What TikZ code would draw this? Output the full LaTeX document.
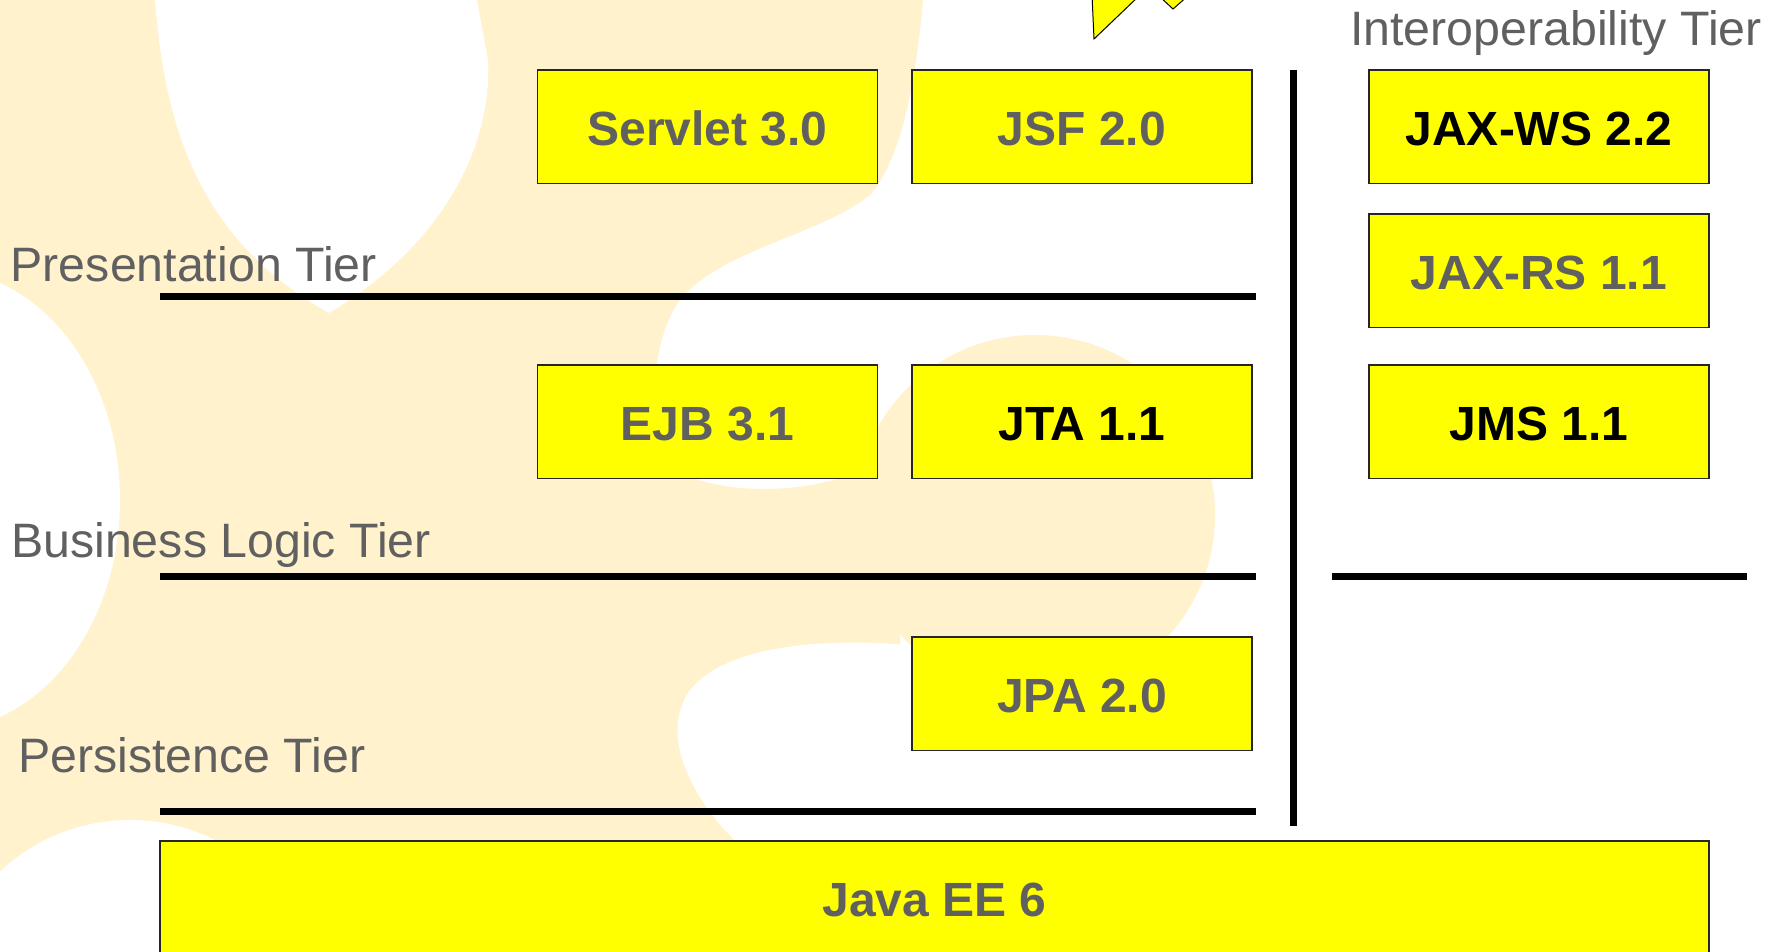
\documentclass[tikz,border=0pt]{standalone}
\usepackage{fontspec}
\setmainfont{Liberation Sans}
\definecolor{bgy}{RGB}{255,242,204}
\definecolor{boxy}{RGB}{255,255,0}
\definecolor{tgray}{RGB}{96,96,96}
\tikzset{
  tierbox/.style={draw=black!85, line width=1.5pt, fill=boxy, minimum width=340pt,
    minimum height=113.5pt, inner sep=0pt, text=tgray,
    font=\bfseries\fontsize{48}{56}\selectfont, text height=38pt, text depth=0pt},
  darktext/.style={text=black},
  tierlabel/.style={anchor=base west, inner sep=0pt, text=tgray,
    font=\fontsize{48.3}{56}\selectfont},
  sepline/.style={line width=7.5pt, black},
  spark/.style={fill=boxy, draw=black, line width=1pt, line join=miter}
}
\begin{document}
\begin{tikzpicture}[x=1pt,y=-1pt]
\useasboundingbox (0,0) rectangle (1778,951);
\clip (0,0) rectangle (1778,951);
\fill[white] (0,0) rectangle (1778,951);
% background shape
\fill[bgy] (-10,-10) -- (925,-10) -- (923,0)
  .. controls (915,90) and (900,160) .. (870,195)
  .. controls (820,235) and (720,250) .. (680,300)
  .. controls (650,340) and (650,420) .. (660,450)
  .. controls (675,495) and (800,500) .. (860,470)
  -- (900,560) -- (900,700) -- (780,960) -- (-10,960) -- cycle;
\fill[bgy] (1035,515) circle[radius=180];
\fill[white] (745,850) .. controls (700,810) and (655,740) .. (690,690)
  .. controls (730,640) and (850,635) .. (950,650) -- (1300,650) -- (1300,850) -- cycle;
\fill[white] (150,-10) -- (155,0) .. controls (165,130) and (200,240) .. (329,313)
  .. controls (450,240) and (492,140) .. (488,60) -- (475,-10) -- cycle;
\fill[white] (-60,500) ellipse[x radius=180, y radius=230];
\fill[white] (130,1010) circle[radius=190];
% partial yellow shapes at the top
\draw[spark] (1092,-5) -- (1094,39) -- (1140,-5);
\draw[spark] (1158,-5) -- (1173,9) -- (1189,-5);
% separators
\coordinate (p1) at (160,296.5);
\coordinate (p2) at (1256,296.5);
\coordinate (b1) at (160,576.5);
\coordinate (b2) at (1256,576.5);
\coordinate (b3) at (1332,576.5);
\coordinate (b4) at (1747,576.5);
\coordinate (s1) at (160,811.3);
\coordinate (s2) at (1256,811.3);
\coordinate (v1) at (1293.5,70);
\coordinate (v2) at (1293.5,825.5);
\draw[sepline] (p1) -- (p2);
\draw[sepline] (b1) -- (b2);
\draw[sepline] (b3) -- (b4);
\draw[sepline] (s1) -- (s2);
\draw[sepline] (v1) -- (v2);
% boxes
\node[tierbox] (servlet) at (707.6,126.8) {Servlet 3.0};
\node[tierbox] (jsf) at (1082,126.8) {JSF 2.0};
\node[tierbox,darktext] (jaxws) at (1539,126.8) {JAX-WS 2.2};
\node[tierbox] (jaxrs) at (1539,270.8) {JAX-RS 1.1};
\node[tierbox] (ejb) at (707.6,421.5) {EJB 3.1};
\node[tierbox,darktext] (jta) at (1082,421.5) {JTA 1.1};
\node[tierbox,darktext] (jms) at (1539,421.5) {JMS 1.1};
\node[tierbox] (jpa) at (1082,693.6) {JPA 2.0};
\node[tierbox, minimum width=1549pt] (javaee) at (934.5,897.8) {Java EE 6};
% tier labels
\node[tierlabel] (lint) at (1350,45) {Interoperability Tier};
\node[tierlabel] (lpres) at (10.5,281.7) {Presentation Tier};
\node[tierlabel] (lbus) at (11,557.3) {Business Logic Tier};
\node[tierlabel] (lpers) at (18,772.7) {Persistence Tier};
\end{tikzpicture}
\end{document}
